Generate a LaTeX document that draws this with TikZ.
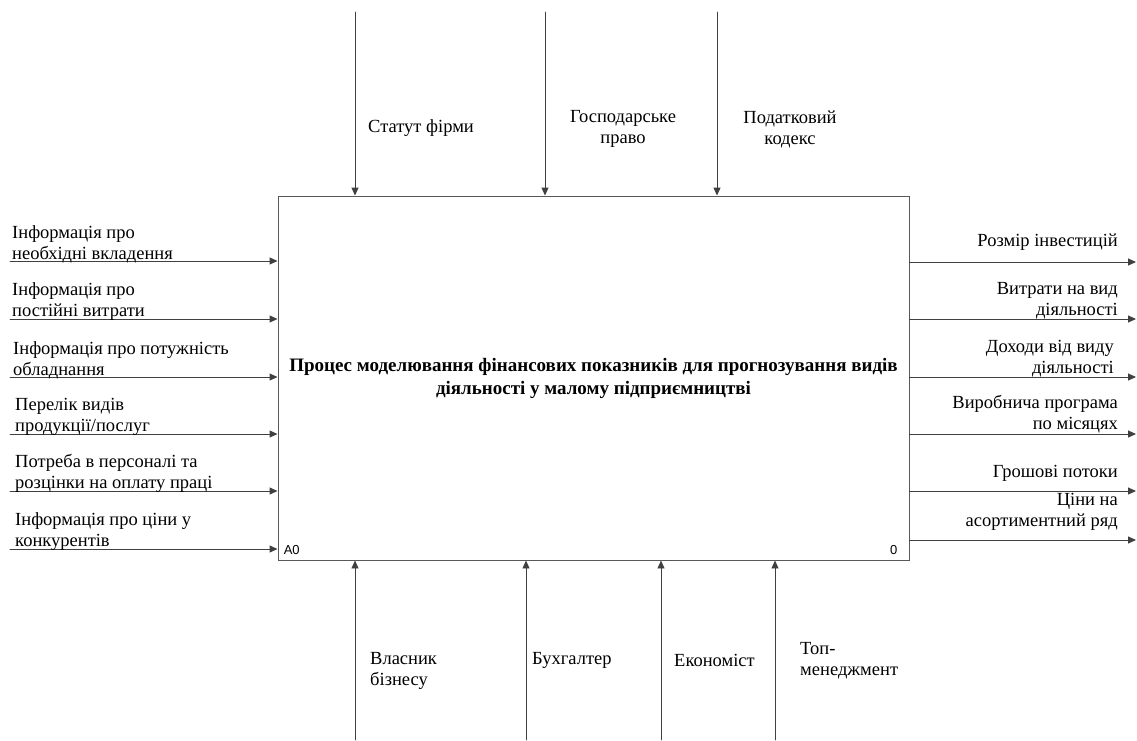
\documentclass[tikz,border=0pt]{standalone}
\usepackage{fontspec}
\setmainfont{Liberation Serif}
\newfontfamily\idefsans{Liberation Sans}
\usetikzlibrary{positioning,arrows.meta}

\tikzset{
  flow/.style={draw=black!75, line width=0.9pt, -{Triangle[length=8pt,width=7pt]}},
  lbl/.style={font=\fontsize{18.5}{21}\selectfont, inner sep=0pt, align=left},
  rlbl/.style={lbl, align=right},
  clbl/.style={lbl, align=center},
  tag/.style={font=\idefsans\fontsize{13}{13}\selectfont, inner sep=0pt}
}

\begin{document}
\begin{tikzpicture}[x=1pt, y=-1pt, line cap=round]
  \useasboundingbox (0,0) rectangle (1137,740);

  % Function box
  \node[draw=black!65, line width=0.9pt, minimum width=631pt, minimum height=364pt, inner sep=0pt] (box) at (593.5,378) {};
  \node[font=\fontsize{19}{23}\selectfont\bfseries, align=center] (title) at (box.center)
    {Процес моделювання фінансових показників для прогнозування видів\\діяльності у малому підприємництві};
  \node[tag, anchor=south west, xshift=6pt, yshift=6pt] (nodeid) at (box.south west) {A0};
  \node[tag, anchor=south east, xshift=-12pt, yshift=6pt] (nodenr) at (box.south east) {0};

  % Inputs
  \coordinate (in1) at (10,261);
  \coordinate (in2) at (10,319);
  \coordinate (in3) at (10,377);
  \coordinate (in4) at (10,434);
  \coordinate (in5) at (10,491);
  \coordinate (in6) at (10,549);
  \draw[flow] (in1) -- (in1 -| box.west);
  \draw[flow] (in2) -- (in2 -| box.west);
  \draw[flow] (in3) -- (in3 -| box.west);
  \draw[flow] (in4) -- (in4 -| box.west);
  \draw[flow] (in5) -- (in5 -| box.west);
  \draw[flow] (in6) -- (in6 -| box.west);
  \node[lbl, anchor=south west, xshift=2pt, yshift=-2pt] (inl1) at (in1) {Інформація про\\необхідні вкладення};
  \node[lbl, anchor=south west, xshift=2pt, yshift=-2pt] (inl2) at (in2) {Інформація про\\постійні витрати};
  \node[lbl, anchor=south west, xshift=3pt, yshift=-2pt] (inl3) at (in3) {Інформація про потужність\\обладнання};
  \node[lbl, anchor=south west, xshift=5pt, yshift=-2pt] (inl4) at (in4) {Перелік видів\\продукції/послуг};
  \node[lbl, anchor=south west, xshift=5pt, yshift=-2pt] (inl5) at (in5) {Потреба в персоналі та\\розцінки на оплату праці};
  \node[lbl, anchor=south west, xshift=5pt, yshift=-2pt] (inl6) at (in6) {Інформація про ціни у\\конкурентів};

  % Outputs
  \coordinate (out1) at (1136,262);
  \coordinate (out2) at (1136,319);
  \coordinate (out3) at (1136,377);
  \coordinate (out4) at (1136,434);
  \coordinate (out5) at (1136,491);
  \coordinate (out6) at (1136,540);
  \draw[flow] (out1 -| box.east) -- (out1);
  \draw[flow] (out2 -| box.east) -- (out2);
  \draw[flow] (out3 -| box.east) -- (out3);
  \draw[flow] (out4 -| box.east) -- (out4);
  \draw[flow] (out5 -| box.east) -- (out5);
  \draw[flow] (out6 -| box.east) -- (out6);
  \node[rlbl, anchor=south east, xshift=-18pt, yshift=11pt] (outl1) at (out1) {Розмір інвестицій};
  \node[rlbl, anchor=south east, xshift=-18pt, yshift=0pt] (outl2) at (out2) {Витрати на вид\\діяльності};
  \node[rlbl, anchor=south east, xshift=-22pt, yshift=0pt] (outl3) at (out3) {Доходи від виду\\діяльності};
  \node[rlbl, anchor=south east, xshift=-18pt, yshift=1pt] (outl4) at (out4) {Виробнича програма\\по місяцях};
  \node[rlbl, anchor=south east, xshift=-18pt, yshift=9pt] (outl5) at (out5) {Грошові потоки};
  \node[rlbl, anchor=south east, xshift=-18pt, yshift=9pt] (outl6) at (out6) {Ціни на\\асортиментний ряд};

  % Controls
  \coordinate (ctl1) at (355,12);
  \coordinate (ctl2) at (545,12);
  \coordinate (ctl3) at (717,12);
  \draw[flow] (ctl1) -- (ctl1 |- box.north);
  \draw[flow] (ctl2) -- (ctl2 |- box.north);
  \draw[flow] (ctl3) -- (ctl3 |- box.north);
  \node[lbl, anchor=west] (ctll1) at (368,128) {Статут фірми};
  \node[clbl] (ctll2) at (623,129) {Господарське\\право};
  \node[clbl] (ctll3) at (790,129) {Податковий\\кодекс};

  % Mechanisms
  \coordinate (mech1) at (355,740);
  \coordinate (mech2) at (526,740);
  \coordinate (mech3) at (661,740);
  \coordinate (mech4) at (775,740);
  \draw[flow] (mech1) -- (mech1 |- box.south);
  \draw[flow] (mech2) -- (mech2 |- box.south);
  \draw[flow] (mech3) -- (mech3 |- box.south);
  \draw[flow] (mech4) -- (mech4 |- box.south);
  \node[lbl, anchor=west] (mechl1) at (370,671) {Власник\\бізнесу};
  \node[lbl, anchor=west] (mechl2) at (532,660) {Бухгалтер};
  \node[lbl, anchor=west] (mechl3) at (674,660) {Економіст};
  \node[lbl, anchor=west] (mechl4) at (800,661) {Топ-\\менеджмент};
\end{tikzpicture}
\end{document}
